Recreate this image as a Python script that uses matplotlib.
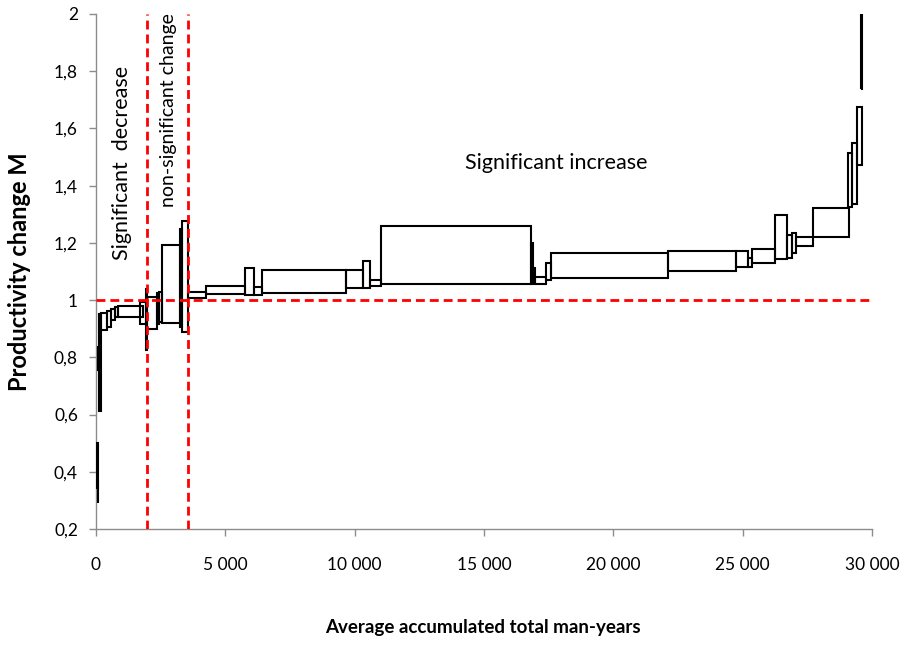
import matplotlib
matplotlib.use("Agg")
import matplotlib.pyplot as plt
from matplotlib.patches import Rectangle
from matplotlib.ticker import FuncFormatter

# Confidence-interval boxes per unit: accumulated man-years span (start, end)
# and lower / upper bound of the productivity change M
man_years_start = [10, 60, 60, 130, 200, 410, 570, 735, 860, 1700, 1940, 1975,
                   2345, 2420, 2540, 3250, 3330, 3560, 4240, 5760, 6108, 6405,
                   9653, 10335, 10593, 11007, 16806, 16880, 16970, 17385, 17590,
                   22120, 24740, 25220, 25350, 26250, 26700, 26890, 27060, 27730,
                   29060, 29240, 29410, 29590]
man_years_end = [60, 80, 150, 175, 410, 570, 735, 860, 1830, 1940, 1975, 2345,
                 2420, 2540, 3250, 3330, 3560, 4240, 5760, 6108, 6405, 9653,
                 10335, 10593, 11007, 16806, 16880, 16970, 17385, 17590, 22120,
                 24740, 25220, 25350, 26250, 26700, 26890, 27060, 27730, 29110,
                 29240, 29410, 29600, 29620]
m_lower = [0.345, 0.290, 0.755, 0.613, 0.895, 0.905, 0.930, 0.940, 0.940, 0.915,
           0.825, 0.900, 0.915, 0.925, 0.920, 0.905, 0.888, 1.006, 1.021, 1.017,
           1.017, 1.026, 1.041, 1.041, 1.049, 1.055, 1.055, 1.059, 1.058, 1.070,
           1.077, 1.102, 1.114, 1.117, 1.128, 1.143, 1.146, 1.163, 1.189, 1.219,
           1.326, 1.336, 1.472, 1.737]
m_upper = [0.500, 0.370, 0.837, 0.953, 0.955, 0.962, 0.968, 0.975, 0.980, 0.995,
           1.040, 1.010, 1.025, 1.030, 1.192, 1.250, 1.276, 1.029, 1.049, 1.113,
           1.047, 1.105, 1.105, 1.137, 1.070, 1.259, 1.200, 1.112, 1.081, 1.128,
           1.165, 1.172, 1.172, 1.147, 1.178, 1.297, 1.227, 1.233, 1.219, 1.323,
           1.515, 1.548, 1.676, 2.200]

# Region boundaries and reference level
boundary_decrease = 1970
boundary_nonsig = 3550
reference_level = 1.0

x_ticks = [0, 5000, 10000, 15000, 20000, 25000, 30000]
y_ticks = [0.2, 0.4, 0.6, 0.8, 1.0, 1.2, 1.4, 1.6, 1.8, 2.0]

plt.rcParams['font.family'] = ['Lato', 'DejaVu Sans']

fig = plt.figure(figsize=(9.12, 6.52), dpi=100)
ax = fig.add_axes([96 / 912, 1 - 529 / 652, (872 - 96) / 912, (529 - 14) / 652])

for x0, x1, lo, hi in zip(man_years_start, man_years_end, m_lower, m_upper):
    ax.add_patch(Rectangle((x0, lo), x1 - x0, hi - lo, fill=False,
                           edgecolor='black', linewidth=1.5, zorder=3))

dash = (0, (3.2, 1.8))
red_kw = dict(color='#FF0000', linewidth=2.0, linestyle=dash, zorder=4)
ax.axhline(reference_level, **red_kw)
ax.axvline(boundary_decrease, **red_kw)
ax.axvline(boundary_nonsig, **red_kw)

ax.set_xlim(0, 30000)
ax.set_ylim(0.2, 2.0)
ax.set_xticks(x_ticks)
ax.set_yticks(y_ticks)
ax.xaxis.set_major_formatter(FuncFormatter(lambda v, p: f"{int(v):,}".replace(",", " ")))
ax.yaxis.set_major_formatter(FuncFormatter(lambda v, p: f"{v:g}".replace(".", ",")))

for side in ('top', 'right'):
    ax.spines[side].set_visible(False)
for side in ('left', 'bottom'):
    ax.spines[side].set_color('#8c8c8c')
    ax.spines[side].set_linewidth(1.0)
ax.tick_params(axis='both', colors='#8c8c8c', labelcolor='black', labelsize=12.5,
               length=5, width=1.0, direction='out')
ax.tick_params(axis='x', pad=15)
ax.tick_params(axis='y', pad=8)

ax.text(1005, 1.479, "Significant  decrease", rotation=90, ha='center', va='center',
        fontsize=15.5)
ax.text(2790, 1.664, "non-significant change", rotation=90, ha='center', va='center',
        fontsize=14)
ax.text(17784, 1.479, "Significant increase", ha='center', va='center', fontsize=15.5)

fig.text(20 / 912, 1 - 272 / 652, "Productivity change M", rotation=90,
         ha='center', va='center', fontsize=17, fontweight='bold')
fig.text(483 / 912, 1 - 627 / 652, "Average accumulated total man-years",
         ha='center', va='center', fontsize=13.5, fontweight='bold')

fig.savefig("out.png", dpi=100)
